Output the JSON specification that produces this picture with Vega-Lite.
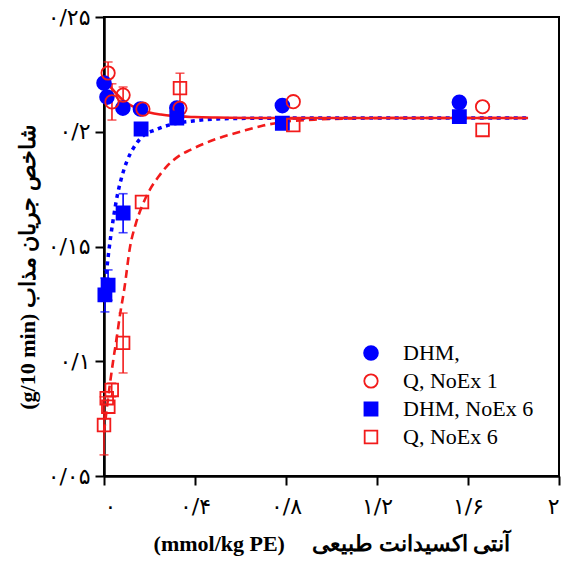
{
  "$schema": "https://vega.github.io/schema/vega-lite/v6.json",
  "width": 455,
  "height": 459,
  "autosize": {"type": "none"},
  "padding": {"left": 104, "top": 17, "right": 5, "bottom": 87},
  "background": "white",
  "datasets": {
    "points": [
      {"s": "DHM,", "x": 0.0, "y": 0.2212},
      {"s": "DHM,", "x": 0.013, "y": 0.2151},
      {"s": "DHM,", "x": 0.083, "y": 0.2103},
      {"s": "DHM,", "x": 0.16, "y": 0.2099},
      {"s": "DHM,", "x": 0.32, "y": 0.2103},
      {"s": "DHM,", "x": 0.784, "y": 0.2114},
      {"s": "DHM,", "x": 1.562, "y": 0.2128},
      {"s": "Q, NoEx 1", "x": 0.018, "y": 0.2256},
      {"s": "Q, NoEx 1", "x": 0.035, "y": 0.213},
      {"s": "Q, NoEx 1", "x": 0.084, "y": 0.216},
      {"s": "Q, NoEx 1", "x": 0.171, "y": 0.2099},
      {"s": "Q, NoEx 1", "x": 0.334, "y": 0.2102},
      {"s": "Q, NoEx 1", "x": 0.832, "y": 0.2131},
      {"s": "Q, NoEx 1", "x": 1.664, "y": 0.2109},
      {"s": "DHM, NoEx 6", "x": 0.004, "y": 0.1289},
      {"s": "DHM, NoEx 6", "x": 0.018, "y": 0.1332},
      {"s": "DHM, NoEx 6", "x": 0.084, "y": 0.1646},
      {"s": "DHM, NoEx 6", "x": 0.163, "y": 0.2012},
      {"s": "DHM, NoEx 6", "x": 0.32, "y": 0.206},
      {"s": "DHM, NoEx 6", "x": 0.784, "y": 0.2037},
      {"s": "DHM, NoEx 6", "x": 1.562, "y": 0.2066},
      {"s": "Q, NoEx 6", "x": 0.0, "y": 0.0722},
      {"s": "Q, NoEx 6", "x": 0.012, "y": 0.0839},
      {"s": "Q, NoEx 6", "x": 0.019, "y": 0.0802},
      {"s": "Q, NoEx 6", "x": 0.034, "y": 0.0875},
      {"s": "Q, NoEx 6", "x": 0.084, "y": 0.108},
      {"s": "Q, NoEx 6", "x": 0.167, "y": 0.1694},
      {"s": "Q, NoEx 6", "x": 0.334, "y": 0.219},
      {"s": "Q, NoEx 6", "x": 0.832, "y": 0.2029},
      {"s": "Q, NoEx 6", "x": 1.664, "y": 0.2008}
    ],
    "errRed": [
      {"x": 0.018, "lo": 0.2208, "hi": 0.2304},
      {"x": 0.035, "lo": 0.2051, "hi": 0.2209},
      {"x": 0.084, "lo": 0.2125, "hi": 0.2195},
      {"x": 0.0, "lo": 0.0592, "hi": 0.0845},
      {"x": 0.034, "lo": 0.0845, "hi": 0.0905},
      {"x": 0.084, "lo": 0.0949, "hi": 0.121},
      {"x": 0.334, "lo": 0.2125, "hi": 0.2255}
    ],
    "errBlue": [
      {"x": 0.004, "lo": 0.1215, "hi": 0.1363},
      {"x": 0.018, "lo": 0.1266, "hi": 0.1398},
      {"x": 0.084, "lo": 0.156, "hi": 0.173}
    ],
    "fitQ1": [
      {"x": 0.0, "y": 0.224},
      {"x": 0.02, "y": 0.2207},
      {"x": 0.05, "y": 0.217},
      {"x": 0.08, "y": 0.2141},
      {"x": 0.12, "y": 0.2114},
      {"x": 0.16, "y": 0.2096},
      {"x": 0.2, "y": 0.2084},
      {"x": 0.25, "y": 0.2075},
      {"x": 0.3, "y": 0.2069},
      {"x": 0.4, "y": 0.2064},
      {"x": 0.5, "y": 0.2062},
      {"x": 0.7, "y": 0.206},
      {"x": 1.0, "y": 0.206},
      {"x": 1.4, "y": 0.206},
      {"x": 1.864, "y": 0.206}
    ],
    "fitD6": [
      {"x": 0.0, "y": 0.127},
      {"x": 0.01, "y": 0.138},
      {"x": 0.02, "y": 0.147},
      {"x": 0.04, "y": 0.1615},
      {"x": 0.06, "y": 0.173},
      {"x": 0.08, "y": 0.181},
      {"x": 0.1, "y": 0.187},
      {"x": 0.13, "y": 0.193},
      {"x": 0.17, "y": 0.198},
      {"x": 0.23, "y": 0.201},
      {"x": 0.3, "y": 0.2033},
      {"x": 0.4, "y": 0.2048},
      {"x": 0.5, "y": 0.2056},
      {"x": 0.7, "y": 0.2059},
      {"x": 1.0, "y": 0.206},
      {"x": 1.864, "y": 0.206}
    ],
    "fitQ6": [
      {"x": 0.0, "y": 0.069},
      {"x": 0.013, "y": 0.08},
      {"x": 0.026, "y": 0.09},
      {"x": 0.04, "y": 0.1},
      {"x": 0.057, "y": 0.111},
      {"x": 0.07, "y": 0.12},
      {"x": 0.09, "y": 0.132},
      {"x": 0.114, "y": 0.1495},
      {"x": 0.14, "y": 0.16},
      {"x": 0.166, "y": 0.1673},
      {"x": 0.2, "y": 0.1745},
      {"x": 0.24, "y": 0.1805},
      {"x": 0.275, "y": 0.1848},
      {"x": 0.33, "y": 0.1895},
      {"x": 0.38, "y": 0.1921},
      {"x": 0.48, "y": 0.1964},
      {"x": 0.6, "y": 0.2},
      {"x": 0.7, "y": 0.2027},
      {"x": 0.8, "y": 0.2044},
      {"x": 0.95, "y": 0.2054},
      {"x": 1.1, "y": 0.2058},
      {"x": 1.3, "y": 0.206},
      {"x": 1.864, "y": 0.206}
    ]
  },
  "encoding": {
    "x": {
      "field": "x", "type": "quantitative",
      "scale": {"domain": [0, 2], "nice": false, "zero": false},
      "axis": {
        "values": [0, 0.4, 0.8, 1.2, 1.6, 2],
        "labelExpr": "abs(datum.value)<0.01 ? '۰' : abs(datum.value-0.4)<0.01 ? '۰/۴' : abs(datum.value-0.8)<0.01 ? '۰/۸' : abs(datum.value-1.2)<0.01 ? '۱/۲' : abs(datum.value-1.6)<0.01 ? '۱/۶' : '۲'",
        "title": "(mmol/kg PE)\u00a0\u00a0\u00a0\u00a0\u00a0آنتی اکسیدانت طبیعی",
        "labelPadding": 11,
        "titlePadding": 16
      }
    },
    "y": {
      "field": "y", "type": "quantitative",
      "scale": {"domain": [0.05, 0.25], "nice": false, "zero": false},
      "axis": {
        "values": [0.05, 0.1, 0.15, 0.2, 0.25],
        "labelExpr": "abs(datum.value-0.05)<0.001 ? '۰/۰۵' : abs(datum.value-0.1)<0.001 ? '۰/۱' : abs(datum.value-0.15)<0.001 ? '۰/۱۵' : abs(datum.value-0.2)<0.001 ? '۰/۲' : '۰/۲۵'",
        "title": "(g/10 min) شاخص جریان مذاب",
        "labelPadding": 5,
        "titlePadding": 8,
        "titleY": 250
      }
    }
  },
  "layer": [
    {
      "data": {"name": "fitQ6"},
      "mark": {"type": "line", "color": "#f21b1b", "strokeWidth": 2.6, "strokeDash": [8, 5], "interpolate": "monotone"},
      "encoding": {}
    },
    {
      "data": {"name": "fitD6"},
      "mark": {"type": "line", "color": "#0000ff", "strokeWidth": 3.5, "strokeDash": [4, 4.5], "interpolate": "monotone"},
      "encoding": {}
    },
    {
      "data": {"name": "fitQ1"},
      "mark": {"type": "line", "color": "#f21b1b", "strokeWidth": 2.6, "interpolate": "monotone"},
      "encoding": {}
    },
    {
      "data": {"name": "errRed"},
      "mark": {"type": "errorbar", "color": "#f21b1b", "thickness": 1.6, "ticks": {"size": 9, "thickness": 1.6}},
      "encoding": {
        "y": {"field": "lo", "type": "quantitative"},
        "y2": {"field": "hi"}
      }
    },
    {
      "data": {"name": "errBlue"},
      "mark": {"type": "errorbar", "color": "#0000ff", "thickness": 1.6, "ticks": {"size": 9, "thickness": 1.6}},
      "encoding": {
        "y": {"field": "lo", "type": "quantitative"},
        "y2": {"field": "hi"}
      }
    },
    {
      "data": {"name": "points"},
      "mark": {"type": "point", "strokeWidth": 1.8, "opacity": 1},
      "encoding": {
        "fill": {
          "field": "s", "type": "nominal",
          "scale": {"domain": ["DHM,", "Q, NoEx 1", "DHM, NoEx 6", "Q, NoEx 6"], "range": ["#0000ff", "transparent", "#0000ff", "transparent"]},
          "legend": {"title": null}
        },
        "stroke": {
          "field": "s", "type": "nominal",
          "scale": {"domain": ["DHM,", "Q, NoEx 1", "DHM, NoEx 6", "Q, NoEx 6"], "range": ["#0000ff", "#f21b1b", "#0000ff", "#f21b1b"]},
          "legend": {"title": null}
        },
        "shape": {
          "field": "s", "type": "nominal",
          "scale": {"domain": ["DHM,", "Q, NoEx 1", "DHM, NoEx 6", "Q, NoEx 6"], "range": ["circle", "circle", "square", "square"]},
          "legend": {"title": null}
        },
        "size": {
          "field": "s", "type": "nominal",
          "scale": {"domain": ["DHM,", "Q, NoEx 1", "DHM, NoEx 6", "Q, NoEx 6"], "range": [190, 160, 140, 121]},
          "legend": {"title": null}
        }
      }
    }
  ],
  "config": {
    "view": {"stroke": "black", "strokeWidth": 2},
    "axis": {
      "grid": false,
      "domainColor": "black",
      "domainWidth": 2.5,
      "tickColor": "black",
      "tickWidth": 2,
      "tickSize": 9,
      "labelFont": "DejaVu Sans",
      "labelFontSize": 22,
      "labelColor": "black",
      "titleFont": "Liberation Serif",
      "titleFontSize": 22,
      "titleFontWeight": "bold",
      "titleColor": "black"
    },
    "legend": {
      "orient": "none",
      "legendX": 256,
      "legendY": 325,
      "labelFont": "Liberation Serif",
      "labelFontSize": 22,
      "labelColor": "black",
      "labelOffset": 21,
      "rowPadding": 6,
      "symbolStrokeWidth": 1.8,
      "padding": 0
    }
  }
}
